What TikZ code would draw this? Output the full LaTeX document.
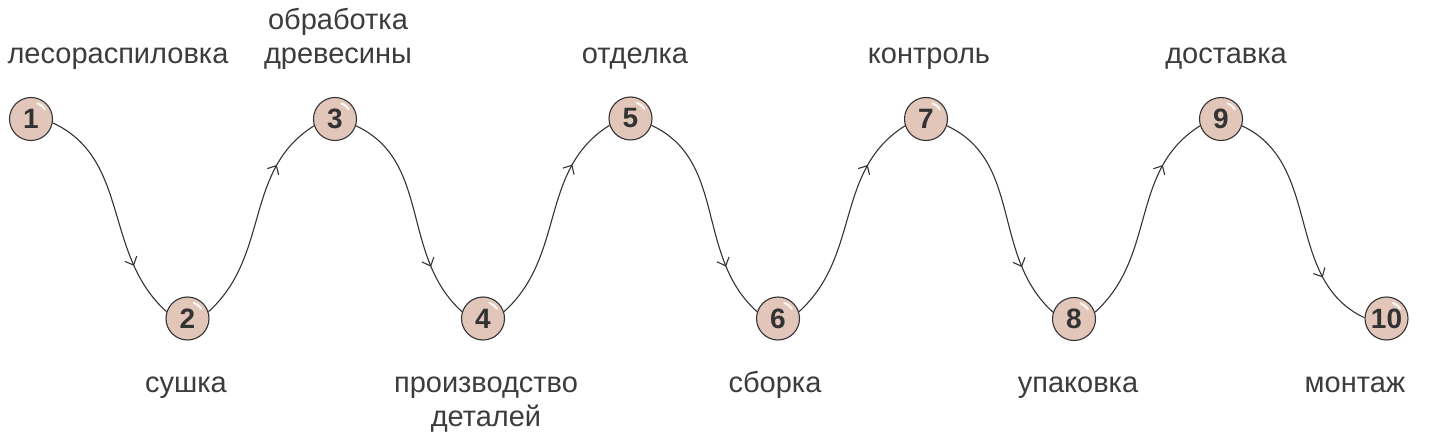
\documentclass[tikz,border=0pt]{standalone}
\usepackage{fontspec}
\setmainfont{Liberation Sans}
\usetikzlibrary{arrows.meta,decorations.markings}
\definecolor{ballfill}{HTML}{E2C6B9}
\definecolor{ink}{HTML}{333333}
\definecolor{txt}{HTML}{3C3C3C}
\tikzset{
  ball/.style={circle,draw=ink,line width=1.1pt,fill=ballfill,minimum size=43pt,inner sep=0pt,
    font=\fontsize{28}{30}\selectfont\bfseries,text=ink},
  lbl/.style={inner sep=0pt,anchor=base,align=center,text=txt,font=\fontsize{29}{34}\selectfont},
  conn/.style={draw=ink,line width=1.1pt,
    postaction={decorate},
    decoration={markings,mark=at position 0.75 with {\arrow[ink,line width=1.1pt]{Straight Barb[length=7pt,width=13pt]}}}},
  down/.style={conn,out=-25,in=138},
  up/.style={conn,out=42,in=-148},
}
\newcommand{\shine}[1]{\draw[white,line width=2.2pt,line cap=round,opacity=0.85] ([shift={(35:17pt)}]#1.center) arc[start angle=35,end angle=68,radius=17pt];}
\begin{document}
\begin{tikzpicture}[x=1pt,y=-1pt]
\useasboundingbox (0,0) rectangle (1437,438);
\node[ball] (n1) at (31,119) {1};
\node[ball] (n2) at (187.5,318.5) {2};
\node[ball] (n3) at (335,119) {3};
\node[ball] (n4) at (483,318.5) {4};
\node[ball] (n5) at (630.5,118.5) {5};
\node[ball] (n6) at (778,318.5) {6};
\node[ball] (n7) at (926,119) {7};
\node[ball] (n8) at (1074,319) {8};
\node[ball] (n9) at (1221,119) {9};
\node[ball] (n10) at (1386.5,318.5) {10};
\foreach \n in {n1,n2,n3,n4,n5,n6,n7,n8,n9,n10} {\shine{\n}}
\draw[down] (n1.-10) to (n2.162);
\draw[up] (n2.18) to (n3.198);
\draw[down] (n3.-18) to (n4.162);
\draw[up] (n4.18) to (n5.198);
\draw[down] (n5.-18) to (n6.162);
\draw[up] (n6.18) to (n7.198);
\draw[down] (n7.-18) to (n8.162);
\draw[up] (n8.18) to (n9.198);
\draw[conn,out=-25,in=155] (n9.-18) to (n10.178);
\node[lbl] (l1) at (118,64) {лесораспиловка};
\node[lbl] (l2) at (186,392) {сушка};
\node[lbl] (l3) at (338,64) {обработка\\древесины};
\node[lbl] (l4) at (486,426) {производство\\деталей};
\node[lbl] (l5) at (635,64) {отделка};
\node[lbl] (l6) at (775,392) {сборка};
\node[lbl] (l7) at (929,64) {контроль};
\node[lbl] (l8) at (1078,392) {упаковка};
\node[lbl] (l9) at (1226,64) {доставка};
\node[lbl] (l10) at (1355,392) {монтаж};
\end{tikzpicture}
\end{document}
